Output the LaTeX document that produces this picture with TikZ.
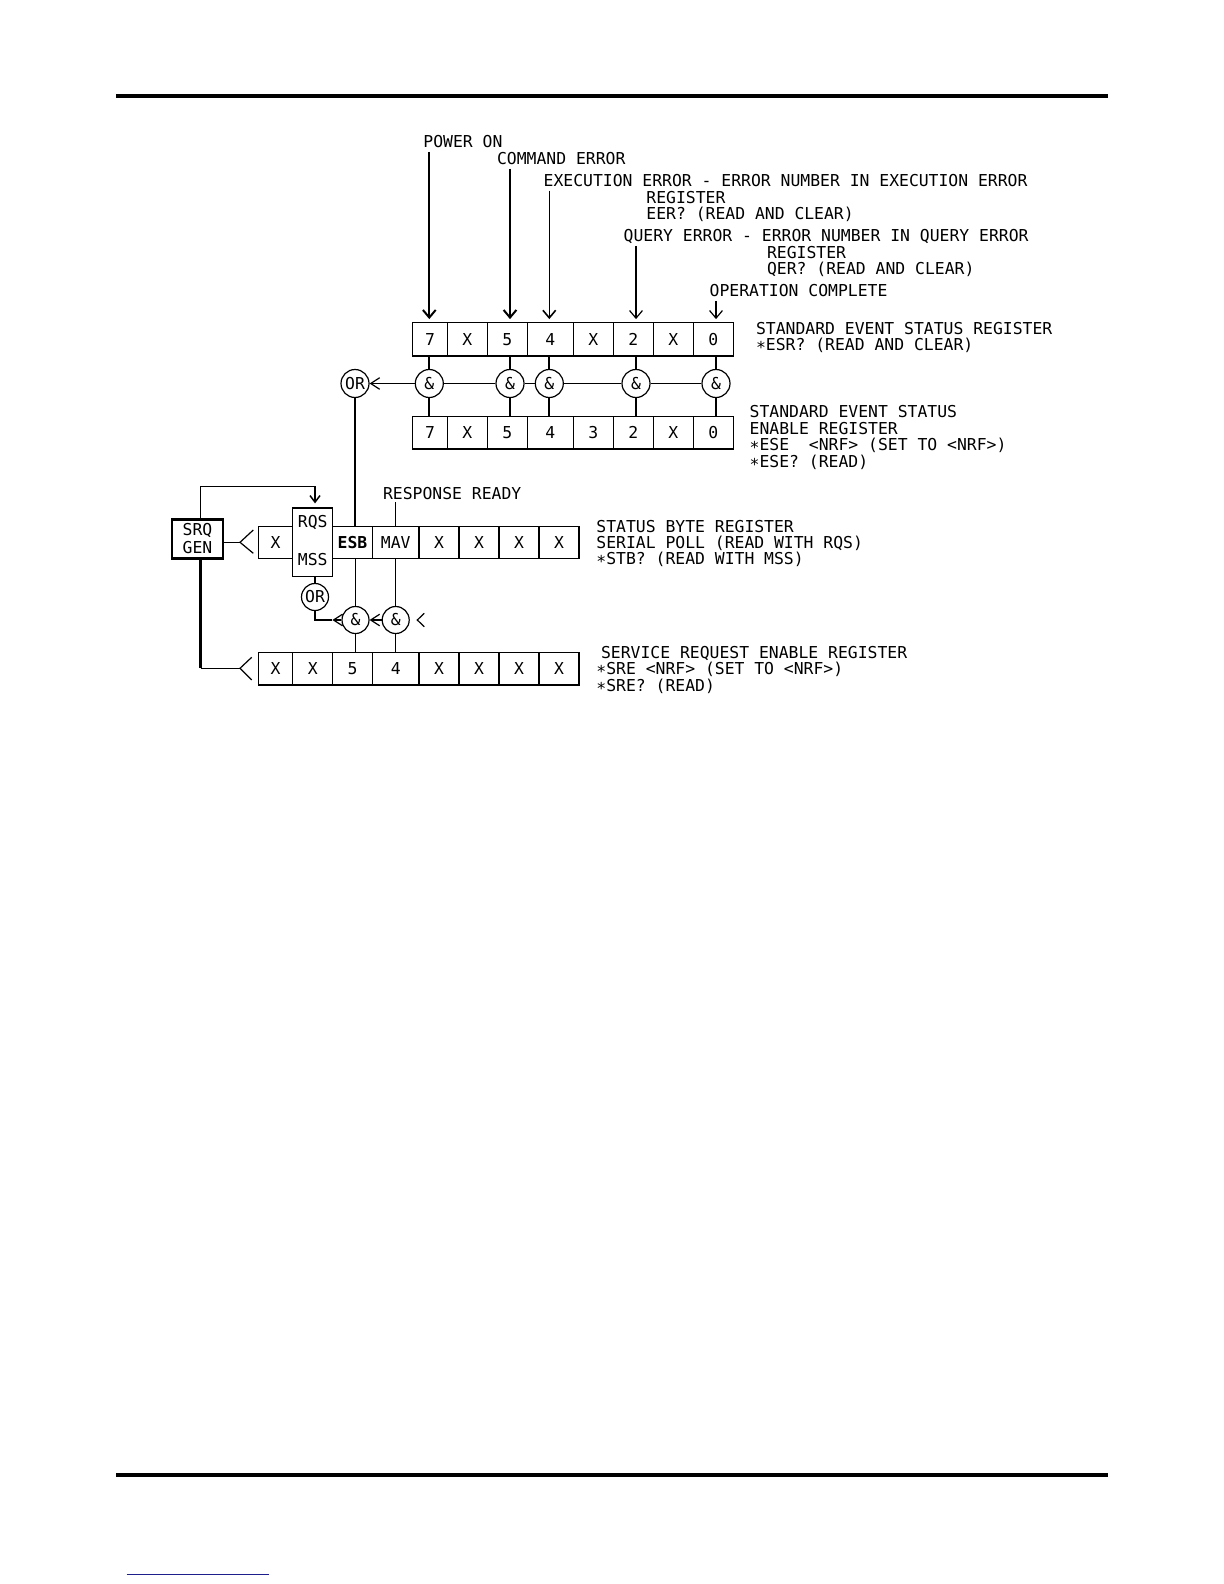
\documentclass[tikz,border=0pt]{standalone}
\usepackage{fontspec}
\setmonofont{DejaVu Sans Mono}
\usetikzlibrary{arrows.meta}
\definecolor{linknavy}{RGB}{30,30,140}
\newcommand\regstar{\raisebox{-1.6pt}{*}}

\begin{document}
\begin{tikzpicture}[x=0.5pt,y=-0.5pt,
  font=\ttfamily\fontsize{8.2}{9.9}\selectfont,
  lbl/.style={anchor=base west,inner sep=0pt,text depth=0pt},
  cell/.style={draw,line width=0.6pt,inner sep=0pt},
  gand/.style={draw,circle,line width=0.6pt,inner sep=0pt,minimum size=14pt},
  sig/.style={-{Straight Barb[length=3.8pt,width=6.4pt]},shorten >=1.5pt,shorten <=2pt},
  gate/.style={-{Straight Barb[length=4.5pt,width=5.8pt]},line width=0.6pt}]
\useasboundingbox (0,0) rectangle (1224,1584);
\draw[line width=2pt] (116,96) -- (1108,96);
\draw[line width=2pt] (116,1474.5) -- (1108,1474.5);
\draw[linknavy,line width=0.7pt] (126.7,1574.5) -- (269,1574.5);

% standard event status register and its enable register
\foreach \b/\cx/\w/\t in {7/430/17.3/7,6/467.3/20/X,5/507.3/20/5,4/550.3/23/4,3/593.3/20/X,2/633.3/20/2,1/673.3/20/X,0/713.3/20/0}
  \node[cell,minimum width=\w pt,minimum height=16.6pt] (esr\b) at (\cx,339.3) {\t};
\foreach \b/\cx/\w/\t in {7/430/17.3/7,6/467.3/20/X,5/507.3/20/5,4/550.3/23/4,3/593.3/20/3,2/633.3/20/2,1/673.3/20/X,0/713.3/20/0}
  \node[cell,minimum width=\w pt,minimum height=16.2pt] (ese\b) at (\cx,432.8) {\t};

\node[gand] (and7) at (429.3,383.5) {\&};
\node[gand] (and5) at (510,383.5) {\&};
\node[gand] (and4) at (549.3,383.5) {\&};
\node[gand] (and2) at (636,383.5) {\&};
\node[gand] (and0) at (716,383.5) {\&};
\node[gand] (orE) at (355,383.5) {OR};
\foreach \b/\lw in {7/1,5/1,4/1,2/0.6,0/0.6}
  \draw[line width=\lw pt] (and\b |- esr\b.south) -- (and\b) -- (and\b |- ese\b.north);
\draw[line width=0.6pt] (and0) -- (and2) -- (and4) -- (and5) -- (and7);
\draw[gate] (and7) -- (orE);

\node[lbl] (pwr) at (423,147.5) {POWER ON};
\draw[sig,line width=1pt] (and7 |- pwr.south) -- (and7 |- esr7.north);
\node[lbl] (cmd) at (496.7,164.3) {COMMAND ERROR};
\draw[sig,line width=1pt] (and5 |- cmd.south) -- (and5 |- esr5.north);
\node[lbl] (exe) at (543.3,186.3) {EXECUTION ERROR - ERROR NUMBER IN EXECUTION ERROR};
\draw[sig,line width=0.8pt] (and4 |- exe.south) -- (and4 |- esr4.north);
\node[lbl] (exe2) at (646,203) {REGISTER};
\node[lbl] (exe3) at (646,219.3) {EER? (READ AND CLEAR)};
\node[lbl] (qry) at (623.3,241.5) {QUERY ERROR - ERROR NUMBER IN QUERY ERROR};
\draw[sig,line width=0.6pt] (and2 |- qry.south) -- (and2 |- esr2.north);
\node[lbl] (qry2) at (766.7,258) {REGISTER};
\node[lbl] (qry3) at (766.7,274.5) {QER? (READ AND CLEAR)};
\node[lbl] (opc) at (709.3,296.5) {OPERATION COMPLETE};
\draw[sig,line width=0.6pt] (and0 |- opc.south) -- (and0 |- esr0.north);

\node[lbl] (esrT1) at (755.7,334) {STANDARD EVENT STATUS REGISTER};
\node[lbl] (esrT2) at (755.7,350.7) {\regstar ESR? (READ AND CLEAR)};
\node[lbl] (eseT1) at (749.3,417.7) {STANDARD EVENT STATUS};
\node[lbl] (eseT2) at (749.3,434) {ENABLE REGISTER};
\node[lbl] (eseT3) at (749.3,450.2) {\regstar ESE\ \ <NRF> (SET TO <NRF>)};
\node[lbl] (eseT4) at (749.3,467) {\regstar ESE? (READ)};

% status byte and service request enable
\foreach \b/\cx/\w/\h/\t in {7/275.5/17.2/16.2/X,6/312.7/20/34.3/{},5/352.5/19.8/16.2/{\bfseries ESB},4/395.7/23.3/16.2/MAV,3/439/20/16.2/X,2/479/20/16.2/X,1/519/20/16.2/X,0/559/20/16.2/X}
  \node[cell,minimum width=\w pt,minimum height=\h pt] (stb\b) at (\cx,542.3) {\t};
\foreach \b/\cx/\w/\t in {7/275.5/17.2/X,6/312.7/20/X,5/352.5/19.8/5,4/395.7/23.3/4,3/439/20/X,2/479/20/X,1/519/20/X,0/559/20/X}
  \node[cell,minimum width=\w pt,minimum height=16.2pt] (sre\b) at (\cx,668.8) {\t};
\node[anchor=base,inner sep=0pt] (rqs) at (312.7,527) {RQS};
\node[anchor=base,inner sep=0pt] (mss) at (312.7,565) {MSS};

\node[lbl] (rdy) at (382.7,499) {RESPONSE READY};
\draw[line width=0.6pt,shorten <=1.3pt] (stb4 |- rdy.south) -- (stb4.north);
\draw[line width=0.6pt] (orE) -- (orE |- stb5.north);

\node[lbl] (stbT1) at (596,532) {STATUS BYTE REGISTER};
\node[lbl] (stbT2) at (596,548.3) {SERIAL POLL (READ WITH RQS)};
\node[lbl] (stbT3) at (596,564.5) {\regstar STB? (READ WITH MSS)};
\node[lbl] (sreT1) at (600.7,658.4) {SERVICE REQUEST ENABLE REGISTER};
\node[lbl] (sreT2) at (596,674.5) {\regstar SRE <NRF> (SET TO <NRF>)};
\node[lbl] (sreT3) at (596,691.2) {\regstar SRE? (READ)};

\node[gand,minimum size=13.5pt] (andS5) at (355.5,620) {\&};
\node[gand,minimum size=13.5pt] (andS4) at (395.7,620) {\&};
\node[gand,minimum size=13.5pt] (orS) at (315,597) {OR};
\draw[line width=0.6pt] (andS5 |- stb5.south) -- (andS5) -- (andS5 |- sre5.north);
\draw[line width=0.6pt] (andS4 |- stb4.south) -- (andS4) -- (andS4 |- sre4.north);
\draw[gate] (andS4) -- (andS5);
\draw[gate] (andS5.west) -- ++(-9,0) coordinate (orIn);
\draw[line width=0.6pt] (orIn) -| (orS);
\draw[line width=0.6pt] (orS |- stb6.south) -- (orS);
\draw[line width=0.6pt] (424.3,613.3) -- (417.3,620) -- (424.3,626.7);

% service request generator
\node[draw,line width=1.2pt,minimum width=25.5pt,minimum height=19.5pt,inner sep=0pt,align=center,
  font=\ttfamily\fontsize{8.2}{9.2}\selectfont] (srq) at (197.5,538.8) {SRQ\\GEN};
\coordinate (busS) at (240,542.3);
\coordinate (busE) at (240,668.3);
\coordinate (fbL) at (200.7,486.7);
\coordinate (fbR) at (315,486.7);
\draw[line width=0.6pt] (busS) ++(13.3,-12.3) -- (busS) -- ++(13.3,11);
\draw[line width=0.6pt] (busE) ++(11.7,-11) -- (busE) -- ++(11.7,11.7);
\draw[line width=0.6pt] (srq.east |- busS) -- (busS);
\draw[-{Straight Barb[length=3.3pt,width=5pt]},line width=0.75pt,shorten >=2pt]
  (srq.north -| fbL) -- (fbL) -- (fbR) -- (fbR |- stb6.north);
\draw[line width=1.4pt] (srq.south -| fbL) -- (fbL |- busE);
\draw[line width=0.6pt] (fbL |- busE) -- (busE);
\end{tikzpicture}
\end{document}
